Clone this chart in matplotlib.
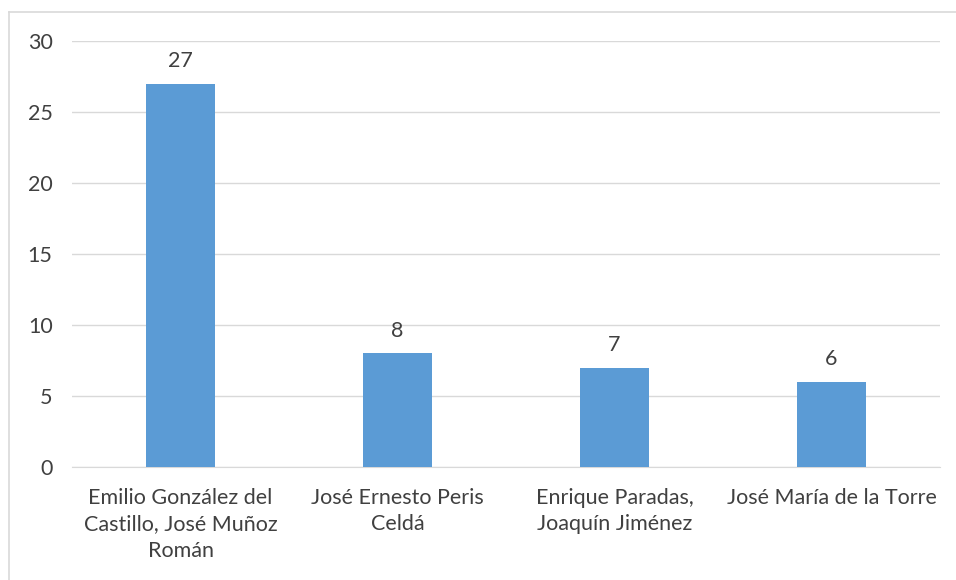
import matplotlib
matplotlib.use('Agg')
from matplotlib import pyplot as plt
from matplotlib.lines import Line2D

categories = ["Emilio González del\nCastillo, José Muñoz\nRomán",
              "José Ernesto Peris\nCeldá",
              "Enrique Paradas,\nJoaquín Jiménez",
              "José María de la Torre"]
values = [27, 8, 7, 6]
yticks = [0, 5, 10, 15, 20, 25, 30]

plt.rcParams['font.family'] = ['Lato', 'DejaVu Sans']

fig = plt.figure(figsize=(9.56, 5.8), dpi=100)
ax = fig.add_axes([72 / 956, 1 - 467 / 580, 868 / 956, 426 / 580])

x = range(len(categories))
bars = ax.bar(x, values, width=0.315, color='#5B9BD5', zorder=3)
for xi, v in zip(x, values):
    ax.annotate(str(v), (xi, v), xytext=(0, 9), textcoords='offset points',
                ha='center', va='bottom', fontsize=15.5, color='#404040')

ax.set_xlim(-0.5, len(categories) - 0.5)
ax.set_ylim(0, 30)
ax.set_yticks(yticks)
ax.set_xticks(list(x))
ax.set_xticklabels(categories, fontsize=15.5, color='#404040', linespacing=1.4)
ax.tick_params(axis='both', length=0, labelsize=15.5, colors='#404040')
ax.tick_params(axis='y', pad=14)
ax.tick_params(axis='x', pad=15)
ax.grid(axis='y', color='#D9D9D9', linewidth=1, zorder=0)
for s in ['top', 'right', 'left']:
    ax.spines[s].set_visible(False)
ax.spines['bottom'].set_color('#D9D9D9')

# chart frame: only its left and top edges fall inside the picture
fx, fy = 8.5 / 956, 1 - 11.5 / 580
fig.lines.append(Line2D([fx, fx], [0, fy], transform=fig.transFigure,
                        color='#D9D9D9', linewidth=1.2))
fig.lines.append(Line2D([fx, 1], [fy, fy], transform=fig.transFigure,
                        color='#D9D9D9', linewidth=1.2))

fig.savefig('out.png', dpi=100)
plt.close(fig)
